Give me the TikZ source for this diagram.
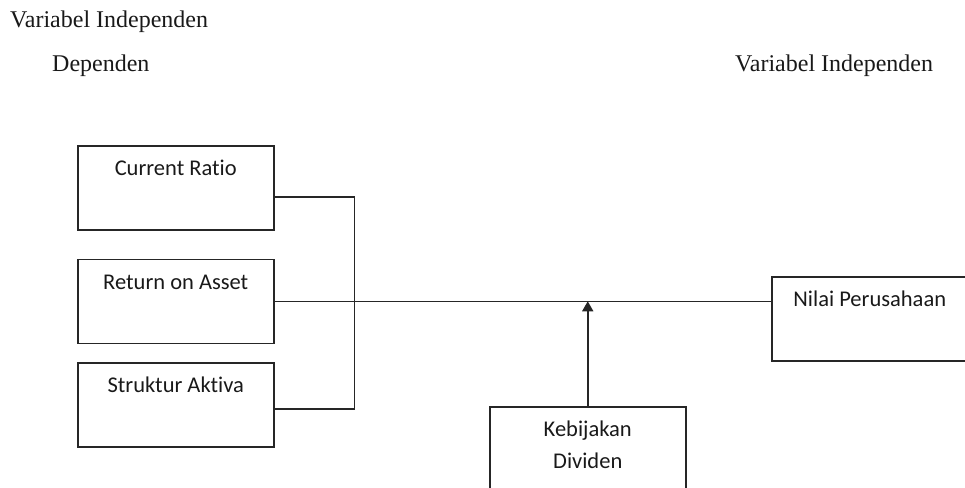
\documentclass[tikz,border=0pt]{standalone}
\usepackage{fontspec}
\setmainfont{Liberation Serif}
\newfontfamily\boxfont[Ligatures=NoCommon]{Carlito}
\usetikzlibrary{arrows.meta,positioning}

\begin{document}
\begin{tikzpicture}[
  x=1pt,y=-1pt,
  box/.style={draw=black!85, line width=1.5pt, minimum width=196pt, minimum height=84pt, inner sep=0pt,
    text height=30pt, text depth=54pt, font=\boxfont\fontsize{22.5}{26}\selectfont, text=black!90},
  head/.style={anchor=base west, inner sep=0pt, font=\fontsize{24}{28}\selectfont, text=black!90},
  line/.style={draw=black!85, line width=1.5pt},
  arrow/.style={line, -{Triangle[length=10pt,width=11pt]}}
]
\clip (0,0) rectangle (965,487);
% headings
\node[head] (vi) at (10,28) {Variabel Independen};
\node[head] (dep) at (52,71) {Dependen};
\node[head] (vr) at (735,71) {Variabel Independen};
% boxes
\node[box, anchor=north west] (cr) at (77,145) {Current Ratio};
\node[box, below=28pt of cr] (ra) {Return on Asset};
\node[box, below=18pt of ra] (sa) {Struktur Aktiva};
\node[box, anchor=north west] (np) at (771,276) {Nilai Perusahaan};
\node[box, anchor=north west] (kd) at (489,406) {\begin{tabular}[t]{@{}c@{}}Kebijakan\\[6pt]Dividen\end{tabular}};
% connectors
\draw[line] (ra.east) -- (ra.east -| np.west);
\draw[line] ([yshift=-9pt]cr.east) -- ++(80,0) |- ([yshift=-4pt]sa.east);
\draw[arrow] (kd.north) -- (kd.north |- ra.east);
\end{tikzpicture}
\end{document}
